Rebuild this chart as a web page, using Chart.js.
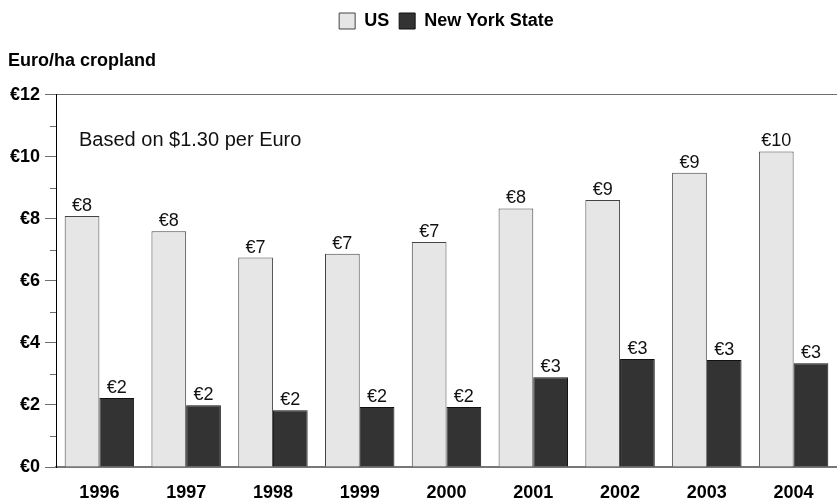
<!DOCTYPE html>
<html>
<head>
<meta charset="utf-8">
<script src="https://cdn.jsdelivr.net/npm/chart.js@4.4.1/dist/chart.umd.min.js"></script>
<style>
  html, body { margin: 0; padding: 0; background: #fff; }
  #wrap { width: 837px; height: 504px; }
</style>
</head>
<body>
<div id="wrap"><canvas id="myChart"></canvas></div>
<script>
// data
var years = ["1996", "1997", "1998", "1999", "2000", "2001", "2002", "2003", "2004"];
var usValues = [8.09, 7.6, 6.75, 6.87, 7.25, 8.33, 8.6, 9.48, 10.17];
var nyValues = [2.22, 1.99, 1.83, 1.93, 1.93, 2.89, 3.48, 3.45, 3.34];
var yTicks = [0, 2, 4, 6, 8, 10, 12];
var yTitle = "Euro/ha cropland";
var note = "Based on $1.30 per Euro";

var FONT = "'Liberation Sans', Arial, sans-serif";

// value labels, note and minor ticks
var extras = {
  id: 'extras',
  afterDatasetsDraw: function(chart) {
    var c = chart.ctx;
    var y = chart.scales.y;
    var area = chart.chartArea;
    c.save();
    c.fillStyle = '#111';
    c.font = "18px " + FONT;
    c.textAlign = 'center';
    c.textBaseline = 'alphabetic';
    chart.data.datasets.forEach(function(ds, i) {
      chart.getDatasetMeta(i).data.forEach(function(bar, j) {
        c.fillText('€' + Math.round(ds.data[j]), bar.x, bar.y - 5);
      });
    });
    // note
    c.font = "20px " + FONT;
    c.textAlign = 'left';
    c.textBaseline = 'middle';
    c.fillText(note, area.left + 23, y.getPixelForValue(10.53));
    // minor ticks
    c.strokeStyle = '#6e6e6e';
    c.lineWidth = 1;
    for (var v = 1; v < 12; v += 2) {
      var py = Math.round(y.getPixelForValue(v)) + 0.5;
      c.beginPath();
      c.moveTo(area.left - 6, py);
      c.lineTo(area.left, py);
      c.stroke();
    }
    c.restore();
  }
};

var ctx = document.getElementById("myChart").getContext('2d');
var myChart = new Chart(ctx, {
  type: 'bar',
  data: {
    labels: years,
    datasets: [{
      label: 'US',
      data: usValues,
      backgroundColor: '#e6e6e6',
      borderColor: '#444',
      borderWidth: 1
    }, {
      label: 'New York State',
      data: nyValues,
      backgroundColor: '#333333',
      borderColor: '#111',
      borderWidth: 1
    }]
  },
  options: {
    responsive: true,
    maintainAspectRatio: false,
    animation: false,
    layout: { padding: { left: 8, right: 0, top: 2, bottom: 0 } },
    datasets: {
      bar: { categoryPercentage: 0.8, barPercentage: 1.0 }
    },
    plugins: {
      legend: {
        position: 'top',
        fullSize: false,
        weight: 3000,
        labels: {
          boxWidth: 16,
          boxHeight: 16,
          padding: 10,
          color: '#000',
          font: { family: FONT, size: 18, weight: 'bold' }
        }
      },
      title: {
        display: true,
        text: yTitle,
        align: 'start',
        color: '#000',
        font: { family: FONT, size: 18, weight: 'bold' },
        padding: { top: 10, bottom: 23 }
      },
      tooltip: { enabled: false }
    },
    scales: {
      x: {
        grid: { display: false, drawTicks: false },
        border: { display: true, color: '#777', width: 2 },
        ticks: {
          color: '#000',
          padding: 15,
          maxRotation: 0,
          autoSkip: false,
          font: { family: FONT, size: 18, weight: 'bold' }
        },
        afterFit: function(scale) { scale.height = 37; }
      },
      y: {
        min: 0,
        max: 12,
        ticks: {
          stepSize: 1,
          color: '#000',
          padding: 5,
          font: { family: FONT, size: 18, weight: 'bold' },
          callback: function(v) {
            return yTicks.indexOf(v) >= 0 ? '€' + v : '';
          }
        },
        grid: {
          tickLength: 11,
          color: function(c) {
            return (c.tick && c.tick.value === 12) ? '#6e6e6e' : 'transparent';
          },
          tickColor: function(c) {
            return (c.tick && yTicks.indexOf(c.tick.value) >= 0) ? '#6e6e6e' : 'transparent';
          }
        },
        border: { display: true, color: '#000', width: 1 },
        afterFit: function(scale) { scale.width = 48; }
      }
    }
  },
  plugins: [extras]
});
</script>
</body>
</html>
